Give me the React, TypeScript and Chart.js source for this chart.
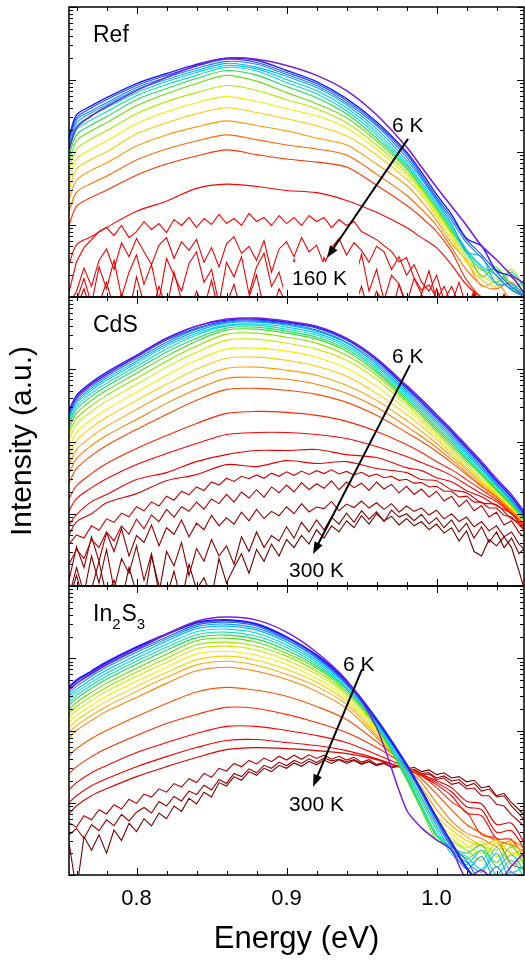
import React, { useEffect, useRef } from "react";
import { Chart, registerables } from "chart.js";

Chart.register(...registerables);

const FONT = '"Liberation Sans", Arial, Helvetica, sans-serif';

// ---- energy grids (eV) ----
const ENERGY = [0.755, 0.76, 0.77, 0.78, 0.8, 0.82, 0.84, 0.86, 0.88, 0.9, 0.92, 0.94, 0.96, 0.98, 0.99, 1.0, 1.01, 1.02, 1.03, 1.04, 1.05, 1.06];
const ENERGY_FINE = [0.755, 0.76, 0.765, 0.77, 0.775, 0.78, 0.785, 0.79, 0.795, 0.8, 0.805, 0.81, 0.815, 0.82, 0.825, 0.83, 0.835, 0.84, 0.845, 0.85, 0.855, 0.86, 0.865, 0.87, 0.875, 0.88, 0.885, 0.89, 0.895, 0.9, 0.905, 0.91, 0.915, 0.92, 0.925, 0.93, 0.935, 0.94, 0.945, 0.95, 0.955, 0.96, 0.965, 0.97, 0.975, 0.98, 0.985, 0.99, 0.995, 1.0, 1.005, 1.01, 1.015, 1.02, 1.025, 1.03, 1.035, 1.04, 1.045, 1.05, 1.055, 1.06];

// ---- axis ticks ----
const X_TICKS = [0.76, 0.78, 0.8, 0.82, 0.84, 0.86, 0.88, 0.9, 0.92, 0.94, 0.96, 0.98, 1.0, 1.02, 1.04];
const X_LABEL_VALUES = [0.8, 0.9, 1.0];
const X_LABEL_TEXT = ["0.8", "0.9", "1.0"];
const Y_MIN = 1;
const Y_MAX = 10000;

// ---- Ref panel (6 K ... 160 K) ----
const REF_01 = [110, 215, 316, 422, 703, 1070, 1560, 1960, 1900, 1560, 1140, 703, 326, 117, 61.9, 32.6, 17.8, 9.69, 5.11, 3.26, 2.02, 1.47];
const REF_02 = [162, 326, 435, 562, 880, 1210, 1620, 1960, 1840, 1330, 938, 544, 261, 100, 52.7, 26.1, 13.8, 6.4, 5.0, 2.3, 1.9, 1.0];
const REF_03 = [152, 297, 408, 527, 825, 1140, 1520, 1900, 1720, 1250, 880, 511, 245, 93.8, 47.9, 23.7, 12.5, 6.19, 3.83, 2.22, 1.38, 1.0];
const REF_04 = [142, 278, 371, 479, 774, 1070, 1420, 1780, 1620, 1170, 825, 479, 230, 85.2, 44.9, 22.2, 11.4, 5.62, 3.48, 1.96, 1.25, 0.97];
const REF_05 = [129, 253, 348, 449, 726, 1000, 1330, 1670, 1480, 1100, 774, 449, 209, 77.4, 42.2, 20.9, 10.3, 4.2, 3.6, 1.5, 1.5, 0.85];
const REF_06 = [117, 230, 316, 408, 659, 938, 1250, 1560, 1400, 1000, 703, 408, 190, 70.3, 38.3, 19.6, 9.69, 4.49, 2.69, 2.0, 1.3, 1.8];
const REF_07 = [103, 202, 278, 359, 599, 852, 1140, 1470, 1310, 908, 638, 371, 172, 65.9, 35.9, 18.4, 9.08, 4.22, 2.53, 1.6, 2.2, 1.2];
const REF_08 = [88, 172, 237, 306, 527, 750, 1030, 1330, 1150, 799, 562, 337, 156, 61.9, 33.7, 17.2, 8.52, 3.95, 2.37, 2.4, 1.5, 1.1];
const REF_09 = [72.6, 142, 196, 253, 435, 638, 880, 1140, 950, 659, 464, 297, 142, 58, 31.6, 16.2, 7.99, 4.4, 1.9, 2.6, 1.3, 1.0];
const REF_10 = [58, 110, 152, 196, 337, 495, 659, 825, 710, 527, 395, 253, 125, 52.7, 29.7, 15.2, 7.5, 3.48, 2.02, 1.6, 2.4, 1.2];
const REF_11 = [42.2, 79.9, 110, 142, 245, 359, 479, 580, 500, 395, 316, 215, 110, 47.9, 27.8, 14.2, 7.03, 3.0, 2.4, 1.8, 1.3, 1.6];
const REF_12 = [30.6, 58, 79.9, 100, 178, 253, 337, 408, 350, 287, 230, 167, 90.8, 42.2, 25.3, 12.9, 6.19, 3.06, 1.72, 1.4, 2.0, 1.0];
const REF_13 = [22.2, 40.8, 56.2, 70.3, 121, 172, 222, 269, 232, 196, 156, 125, 68.1, 34.8, 20.9, 11.4, 5.44, 3.2, 1.4, 1.6, 0.9, 0.8];
const REF_14 = [15.2, 27.8, 37.1, 46.4, 77.4, 110, 142, 172, 148, 125, 110, 90.8, 49.5, 25.3, 16.2, 9.69, 4.79, 2.37, 1.47, 1.3, 1.6, 0.9];
const REF_15 = [9.69, 17.8, 23.7, 29.7, 47.9, 68.1, 88, 107, 92, 79.9, 72.6, 61.9, 34.8, 18.4, 12.5, 7.99, 4.22, 1.72, 1.0, 0.9, 0.9, 0.9];
const REF_16 = [2.78, 5.27, 6.81, 9.08, 15.2, 21, 31.5, 36, 33.5, 29.5, 27.5, 21.5, 14.7, 9.08, 6.59, 4.79, 2.78, 1.47, 1.0, 0.9, 0.9, 0.9];
const REF_17 = [1.17, 3.06, 4.79, 6.19, 7.99, 9.08, 7.03, 9.69, 6.59, 7.99, 11, 8.52, 10.3, 7.74, 11.7, 9.69, 12.5, 9.08, 12.1, 10, 13.8, 10.3, 12.1, 9.69, 14.2, 11, 12.5, 9.69, 13.3, 10.3, 12.5, 9.69, 13.3, 11, 12.5, 9.08, 11.7, 9.69, 11, 7.99, 7.03, 6.19, 5.11, 4.22, 3.06, 3.48, 1.84, 1.25, 1.47, 0.97, 0.78, 0.7, 0.7, 0.7, 0.7, 0.7, 0.7, 0.7, 0.7, 0.7, 0.7, 0.7];
const REF_18 = [0.8, 1.2, 2.5, 1.4, 3.2, 4.6, 2.4, 5.6, 3.6, 6.4, 4.2, 2.8, 5.2, 6.6, 3.4, 5.8, 4.4, 6.2, 3.0, 4.8, 2.6, 5.4, 6.8, 4.0, 5.0, 3.2, 6.0, 2.2, 4.6, 5.8, 3.6, 6.6, 4.2, 5.2, 2.8, 4.8, 6.4, 3.8, 5.6, 4.4, 3.0, 5.0, 4.2, 2.4, 3.6, 2.0, 2.8, 1.6, 1.2, 2.0, 0.9, 1.4, 0.8, 0.7, 1.1, 0.7, 0.7, 0.7, 0.7, 0.7, 0.7, 0.7];
const REF_19 = [0.7, 0.9, 1.8, 0.8, 2.6, 1.3, 3.2, 1.0, 2.2, 3.8, 1.5, 2.8, 0.9, 3.4, 2.0, 1.2, 2.9, 4.2, 1.6, 2.4, 0.8, 3.0, 1.9, 3.6, 1.1, 2.6, 4.0, 1.4, 2.2, 0.9, 3.3, 1.7, 2.7, 1.0, 3.5, 2.1, 1.3, 2.8, 1.6, 3.9, 1.2, 2.4, 0.9, 2.0, 1.5, 0.8, 1.8, 1.1, 2.3, 0.9, 1.4, 0.8, 1.6, 0.7, 1.2, 0.7, 0.9, 0.7, 0.7, 0.7, 0.7, 0.7];
const REF_20 = [0.6, 0.7, 1.3, 0.6, 0.8, 1.6, 0.7, 1.1, 0.6, 1.9, 0.8, 0.6, 1.4, 0.7, 2.2, 0.9, 0.6, 1.2, 0.7, 1.7, 0.6, 0.8, 1.5, 0.6, 1.0, 2.0, 0.7, 0.6, 1.3, 0.8, 0.6, 1.6, 0.7, 1.1, 0.6, 0.9, 1.8, 0.6, 0.7, 1.4, 0.6, 1.2, 0.8, 0.6, 1.5, 0.7, 0.6, 1.1, 0.6, 1.3, 0.7, 0.6, 0.9, 0.6, 1.2, 0.6, 0.8, 0.6, 1.1, 0.6, 0.7, 0.6];
const REF_COLORS = ["#7b1fd6", "#1f1fff", "#1f4fff", "#1f7fff", "#10aaff", "#00ccee", "#10ddbb", "#22dd55", "#66e010", "#aaee00", "#eeee00", "#ffcc00", "#ff9900", "#ff6600", "#ff3300", "#ff0000", "#ff0000", "#ee0000", "#ee0000", "#e00000"];

// ---- CdS panel (6 K ... 300 K) ----
const CDS_01 = [253, 408, 619, 852, 1520, 2610, 3950, 4950, 5110, 4640, 3950, 2690, 1420, 599, 383, 237, 147, 88, 52.7, 30.6, 18.4, 9.69];
const CDS_02 = [269, 435, 659, 908, 1560, 2690, 3950, 4790, 4950, 4490, 3830, 2610, 1380, 562, 359, 222, 138, 82.5, 49.5, 28.7, 17.2, 9.08];
const CDS_03 = [253, 408, 619, 852, 1470, 2530, 3710, 4640, 4790, 4350, 3710, 2530, 1330, 544, 348, 215, 133, 79.9, 47.9, 27.8, 16.7, 8.8];
const CDS_04 = [237, 383, 580, 799, 1380, 2370, 3590, 4490, 4640, 4220, 3480, 2370, 1250, 511, 326, 202, 125, 75, 44.9, 26.1, 15.6, 8.25];
const CDS_05 = [222, 359, 544, 750, 1290, 2220, 3370, 4350, 4490, 4080, 3370, 2300, 1170, 479, 306, 190, 117, 70.3, 42.2, 25.3, 15.2, 7.99];
const CDS_06 = [209, 337, 511, 703, 1210, 2090, 3160, 4080, 4220, 3830, 3160, 2150, 1100, 449, 287, 178, 110, 65.9, 40.8, 24.5, 14.7, 8.52];
const CDS_07 = [190, 306, 464, 638, 1100, 1900, 2970, 3950, 4080, 3590, 2970, 2020, 1030, 422, 269, 167, 103, 61.9, 38.3, 23.7, 14.2, 7.74];
const CDS_08 = [172, 278, 422, 580, 1000, 1720, 2690, 3710, 3830, 3370, 2780, 1900, 969, 395, 253, 156, 96.9, 58, 35.9, 22.2, 13.8, 8.25];
const CDS_09 = [152, 245, 371, 511, 880, 1520, 2450, 3480, 3590, 3160, 2610, 1780, 908, 371, 237, 147, 90.8, 56.2, 34.8, 21.5, 13.3, 7.5];
const CDS_10 = [129, 209, 316, 435, 750, 1290, 2090, 3060, 3160, 2780, 2300, 1560, 825, 348, 222, 138, 85.2, 52.7, 33.7, 20.9, 12.9, 8.52];
const CDS_11 = [107, 172, 261, 359, 619, 1070, 1720, 2530, 2610, 2300, 1900, 1330, 726, 316, 202, 129, 79.9, 49.5, 30.6, 20.2, 12.5, 7.26];
const CDS_12 = [82.5, 133, 202, 278, 479, 825, 1330, 1900, 1960, 1780, 1470, 1030, 580, 278, 184, 117, 75, 46.4, 28.7, 19, 12.1, 7.99];
const CDS_13 = [63.8, 103, 156, 215, 371, 619, 1000, 1420, 1470, 1330, 1100, 799, 464, 237, 162, 107, 68.1, 43.5, 27.8, 18.4, 11.7, 7.03];
const CDS_14 = [47.9, 77.4, 117, 162, 278, 464, 726, 1030, 1070, 969, 825, 599, 371, 196, 138, 93.8, 61.9, 40.8, 26.1, 17.8, 11.4, 7.74];
const CDS_15 = [35.9, 58, 88, 121, 202, 337, 527, 750, 774, 726, 619, 464, 297, 162, 117, 82.5, 56.2, 37.1, 24.5, 17.2, 11, 6.59];
const CDS_16 = [26.9, 42.2, 63.8, 88, 147, 237, 371, 527, 544, 511, 449, 348, 230, 133, 100, 72.6, 51.1, 34.8, 23.7, 16.7, 10.7, 7.26];
const CDS_17 = [16.2, 24.5, 35.9, 49.5, 79.9, 121, 178, 245, 261, 253, 230, 190, 138, 90.8, 70.3, 52.7, 40.8, 29.7, 21.5, 15.6, 10.3, 6.19];
const CDS_18 = [11, 16.2, 23, 30.6, 47.9, 68.1, 93.8, 125, 133, 133, 125, 110, 85.2, 61.9, 51.1, 42.2, 33.7, 25.3, 19, 14.7, 10, 7.03];
const CDS_19 = [7.03, 9.69, 14.7, 18.4, 29.7, 37.1, 52.7, 65.9, 75, 75, 77.4, 65.9, 59.9, 43.5, 39.5, 31.6, 27.8, 20.9, 17.2, 12.9, 10, 5.44];
const CDS_20 = [5.11, 7.74, 10, 14.2, 19, 28.7, 34.8, 47.9, 44.9, 54.4, 49.5, 52.7, 42.2, 37.1, 29.7, 28.7, 21.5, 19.6, 14.2, 13.3, 8.52, 7.03];
const CDS_21 = [3.8, 5.1, 4.6, 6.8, 5.9, 8.5, 7.6, 10.2, 9.1, 12.5, 11.0, 14.6, 12.8, 17.5, 15.4, 20.5, 18.3, 23.5, 21.0, 27.5, 25.0, 31.0, 28.0, 33.0, 30.5, 34.5, 31.0, 36.5, 33.0, 38.0, 34.0, 39.0, 35.0, 39.5, 36.0, 40.5, 35.5, 38.5, 34.5, 37.5, 33.0, 35.5, 31.5, 33.0, 29.0, 30.0, 26.5, 27.0, 23.5, 24.0, 20.5, 20.5, 17.0, 17.5, 14.5, 14.5, 12.0, 12.0, 9.5, 9.0, 7.0, 5.5];
const CDS_22 = [2.0, 3.2, 2.4, 4.4, 3.4, 5.6, 4.2, 6.8, 5.2, 8.4, 6.2, 9.6, 7.8, 11.5, 9.0, 12.5, 10.8, 14.5, 11.6, 16.0, 13.8, 18.5, 14.5, 20.0, 16.5, 21.5, 17.0, 23.5, 19.5, 25.0, 20.0, 27.0, 21.5, 26.0, 22.5, 28.5, 21.5, 27.5, 23.0, 26.5, 21.0, 27.5, 22.0, 25.5, 19.5, 24.0, 18.5, 22.0, 17.0, 20.5, 15.0, 17.5, 12.5, 15.5, 11.0, 13.0, 9.0, 10.5, 7.0, 8.0, 5.5, 4.5];
const CDS_23 = [1.2, 3.5, 1.8, 4.8, 2.2, 5.5, 3.0, 6.2, 2.6, 5.0, 4.0, 7.0, 3.6, 6.4, 5.2, 8.2, 4.8, 7.4, 6.0, 9.5, 6.8, 8.8, 7.2, 10.5, 8.0, 11.5, 8.6, 10.8, 9.4, 12.5, 10.0, 13.8, 10.6, 12.4, 11.8, 14.8, 11.0, 13.6, 12.2, 15.0, 12.0, 14.2, 11.5, 13.8, 10.5, 12.8, 10.8, 12.0, 9.6, 11.2, 8.5, 10.0, 7.8, 9.0, 6.6, 7.8, 5.8, 6.8, 4.8, 5.6, 3.8, 3.0];
const CDS_24 = [0.7, 1.8, 0.8, 2.6, 1.1, 3.2, 0.9, 2.4, 1.5, 3.6, 1.2, 2.8, 0.8, 3.0, 1.9, 4.0, 1.4, 3.3, 2.2, 4.4, 2.6, 3.6, 2.0, 4.8, 3.0, 5.6, 3.4, 5.0, 4.2, 6.6, 4.6, 7.6, 5.6, 8.2, 6.0, 9.0, 7.2, 10.2, 7.6, 11.0, 8.4, 10.6, 7.8, 11.2, 9.0, 10.0, 8.0, 9.8, 7.2, 8.8, 6.4, 8.2, 5.6, 7.4, 4.6, 6.6, 4.0, 5.6, 3.4, 4.6, 2.8, 3.6];
const CDS_25 = [0.6, 1.4, 0.6, 0.9, 2.2, 0.7, 1.2, 0.6, 1.8, 0.8, 0.6, 2.6, 1.0, 0.7, 1.6, 0.6, 2.0, 0.9, 1.3, 0.7, 2.4, 1.1, 1.8, 2.8, 1.5, 3.2, 2.2, 3.8, 2.6, 4.4, 3.4, 5.0, 3.8, 6.0, 4.6, 6.8, 5.6, 8.0, 6.4, 9.4, 7.2, 10.0, 8.0, 9.2, 7.0, 8.6, 6.8, 7.8, 6.0, 7.2, 5.4, 6.4, 4.2, 5.8, 3.0, 2.6, 4.4, 3.6, 4.8, 3.4, 1.6, 0.7];
const CDS_COLORS = ["#7b1fd6", "#2020ff", "#2050ff", "#1a80ff", "#10aaff", "#00ccee", "#10ddbb", "#20dd70", "#44dd22", "#88e800", "#c4f000", "#f4f000", "#ffcc00", "#ffa000", "#ff7a00", "#ff4a00", "#ff2200", "#ff0000", "#f00000", "#e00000", "#cc0000", "#b00000", "#990000", "#880000", "#700000"];

// ---- In2S3 panel (6 K ... 300 K) ----
const INS_01 = [359, 449, 619, 825, 1330, 2150, 3260, 3710, 3370, 2300, 1210, 495, 110, 7.99, 4.49, 3.06, 2.22, 0.9, 1.17, 0.77, 1.33, 2.22];
const INS_02 = [395, 495, 659, 880, 1420, 2150, 3100, 3370, 2970, 1960, 1100, 479, 142, 33.7, 14.7, 6.19, 2.78, 1.25, 0.77, 0.9, 0.66, 0.77];
const INS_03 = [359, 449, 599, 799, 1290, 1960, 2900, 3160, 2790, 1840, 1030, 449, 138, 32.6, 14.2, 5.8, 2.53, 1.6, 0.8, 1.3, 0.7, 0.9];
const INS_04 = [326, 408, 562, 750, 1210, 1840, 2740, 2970, 2610, 1780, 1000, 435, 133, 30.6, 13.3, 5.27, 2.37, 1.2, 1.8, 0.8, 1.1, 0.7];
const INS_05 = [297, 371, 511, 681, 1100, 1720, 2570, 2780, 2450, 1670, 938, 422, 129, 27.8, 11.7, 4.79, 2.15, 1.5, 1.1, 2.0, 0.8, 1.0];
const INS_06 = [269, 337, 464, 619, 1000, 1560, 2330, 2530, 2230, 1520, 880, 395, 125, 25.3, 10.3, 4.22, 1.96, 1.4, 2.2, 1.0, 1.6, 0.8];
const INS_07 = [245, 306, 422, 562, 908, 1420, 2120, 2300, 2020, 1420, 825, 383, 121, 23.7, 9.08, 3.71, 2.2, 1.8, 1.2, 2.4, 1.1, 1.4];
const INS_08 = [222, 278, 383, 511, 825, 1290, 1930, 2090, 1840, 1290, 774, 371, 117, 22.2, 8.52, 3.48, 2.4, 2.0, 2.6, 1.3, 1.9, 1.0];
const INS_09 = [196, 245, 337, 449, 726, 1140, 1750, 1900, 1670, 1170, 726, 348, 114, 20.9, 7.99, 3.06, 2.6, 1.7, 2.2, 1.5, 2.5, 1.2];
const INS_10 = [172, 215, 297, 395, 638, 1000, 1540, 1670, 1470, 1070, 659, 326, 110, 22.2, 9.08, 3.48, 2.9, 2.2, 1.6, 2.8, 1.4, 1.8];
const INS_11 = [152, 190, 261, 348, 562, 880, 1350, 1470, 1300, 938, 599, 306, 103, 23.7, 11, 4.49, 3.2, 2.4, 2.9, 1.8, 2.4, 1.5];
const INS_12 = [129, 162, 222, 297, 479, 750, 1150, 1250, 1100, 825, 527, 278, 96.9, 25.3, 12.5, 5.44, 3.6, 2.6, 2.0, 3.0, 1.9, 2.2];
const INS_13 = [110, 138, 190, 253, 408, 638, 950, 1070, 940, 703, 464, 253, 90.8, 26.9, 14.2, 6.59, 4.2, 3.0, 2.5, 2.2, 2.8, 1.7];
const INS_14 = [93.8, 117, 162, 215, 348, 544, 810, 908, 800, 599, 408, 230, 85.2, 28.7, 16.2, 7.99, 4.8, 3.4, 2.6, 3.0, 2.0, 2.4];
const INS_15 = [79.9, 100, 138, 184, 287, 449, 670, 750, 660, 511, 348, 202, 79.9, 30.6, 19, 10, 5.6, 3.8, 3.2, 2.5, 3.0, 2.2];
const INS_16 = [44.9, 56.2, 77.4, 100, 156, 237, 342, 395, 360, 297, 215, 142, 70.3, 32.6, 21.5, 13.3, 7.99, 5.0, 3.8, 3.0, 2.6, 2.0];
const INS_17 = [25.3, 31.6, 43.5, 56.2, 85.2, 125, 167, 209, 202, 167, 129, 93.8, 58, 32.6, 23.7, 16.2, 10.3, 7.5, 3.6, 3.2, 1.4, 1.2];
const INS_18 = [15.2, 19, 26.1, 32.6, 49.5, 68.1, 90.8, 114, 114, 100, 85.2, 68.1, 46.4, 30.6, 23.7, 17.8, 12.5, 7.2, 6.6, 3.2, 3.1, 1.5];
const INS_19 = [10, 12.5, 17.2, 21.5, 31.6, 43.5, 58, 72.6, 75, 68.1, 61.9, 52.7, 40.8, 28.7, 23.7, 19, 14.2, 8.8, 8.0, 3.9, 4.1, 2.0];
const INS_20 = [7.03, 9.08, 12.5, 15.6, 23, 31.6, 42.2, 54.4, 58, 56.2, 52.7, 47.9, 39.5, 28.7, 24.5, 20.2, 16.2, 10.5, 9.6, 5.0, 5.2, 2.4];
const INS_21 = [5.3, 4.6, 6.6, 5.8, 8.0, 7.0, 9.4, 8.2, 11.2, 9.8, 13.2, 12.0, 15.6, 14.0, 18.4, 16.5, 21.5, 19.0, 25.5, 22.5, 30.0, 27.5, 35.0, 31.5, 38.5, 34.5, 41.5, 37.0, 44.0, 39.0, 45.5, 40.0, 46.0, 41.0, 45.5, 40.0, 44.0, 39.0, 42.5, 36.5, 39.5, 34.0, 36.0, 30.5, 32.0, 27.5, 28.5, 24.0, 25.0, 21.0, 22.0, 18.0, 19.0, 15.5, 16.0, 12.5, 12.5, 9.5, 9.0, 6.8, 5.5, 4.4];
const INS_22 = [3.6, 4.4, 3.2, 5.0, 4.1, 5.8, 4.8, 6.9, 5.6, 7.4, 8.6, 7.2, 10.4, 9.0, 12.2, 10.6, 14.5, 13.0, 17.5, 15.0, 21.0, 18.5, 25.5, 23.0, 29.5, 26.0, 33.0, 30.0, 36.5, 32.5, 38.5, 35.0, 40.5, 36.0, 41.5, 38.0, 40.0, 37.0, 39.5, 35.0, 37.5, 33.0, 35.0, 31.0, 32.0, 27.5, 29.0, 25.5, 26.0, 22.0, 23.5, 20.0, 21.0, 17.0, 18.5, 14.5, 15.5, 12.0, 12.5, 9.0, 7.0, 5.3];
const INS_23 = [2.8, 0.6, 3.4, 2.2, 3.6, 2.0, 4.2, 3.0, 5.2, 4.0, 6.0, 4.8, 7.2, 6.0, 9.0, 7.6, 11.5, 9.6, 14.0, 12.0, 19.0, 17.0, 23.0, 20.5, 27.0, 24.0, 30.0, 27.0, 33.0, 30.0, 35.5, 32.0, 37.5, 33.5, 39.0, 35.0, 39.5, 35.0, 38.5, 34.0, 37.0, 32.5, 35.5, 31.0, 33.5, 29.0, 31.0, 27.0, 28.5, 24.5, 26.0, 22.0, 23.0, 19.5, 20.5, 16.0, 17.0, 12.5, 13.5, 10.0, 8.0, 6.2];
const INS_COLORS = ["#7b1fd6", "#2020ff", "#2060ff", "#1890ff", "#00b8ff", "#00d8e8", "#10e0b0", "#20dd50", "#55e010", "#99e800", "#ccf000", "#f4f000", "#ffd000", "#ffaa00", "#ff8000", "#ff5000", "#ff2a00", "#ff0000", "#f00000", "#dd0000", "#b00000", "#990000", "#7a0000"];

type Seg = { t: string; sub?: boolean };
type Note = { text: string; e: number; v: number; box?: boolean };
type Arrow = { e0: number; v0: number; e1: number; v1: number };
type Panel = {
  key: string;
  top: number;
  height: number;
  padTop: number;
  padBottom: number;
  label: Seg[];
  series: number[][];
  colors: string[];
  widths: Record<number, number>;
  notes: Note[];
  arrow: Arrow;
  xAxis?: boolean;
  yTitleY?: number;
};

const PANELS: Panel[] = [
  {
    key: "ref", top: 0, height: 300, padTop: 7, padBottom: 3,
    label: [{ t: "Ref" }],
    series: [REF_01, REF_02, REF_03, REF_04, REF_05, REF_06, REF_07, REF_08, REF_09, REF_10, REF_11, REF_12, REF_13, REF_14, REF_15, REF_16, REF_17, REF_18, REF_19, REF_20],
    colors: REF_COLORS,
    widths: { 0: 1.6, 1: 1.4 },
    notes: [
      { text: "6 K", e: 0.9703, v: 190 },
      { text: "160 K", e: 0.9037, v: 1.47, box: true },
    ],
    arrow: { e0: 0.981, v0: 152, e1: 0.927, v1: 3.48 },
  },
  {
    key: "cds", top: 290, height: 300, padTop: 7, padBottom: 4,
    label: [{ t: "CdS" }],
    series: [CDS_01, CDS_02, CDS_03, CDS_04, CDS_05, CDS_06, CDS_07, CDS_08, CDS_09, CDS_10, CDS_11, CDS_12, CDS_13, CDS_14, CDS_15, CDS_16, CDS_17, CDS_18, CDS_19, CDS_20, CDS_21, CDS_22, CDS_23, CDS_24, CDS_25],
    colors: CDS_COLORS,
    widths: { 0: 1.5, 1: 1.4 },
    notes: [
      { text: "6 K", e: 0.9703, v: 1210 },
      { text: "300 K", e: 0.9017, v: 1.33 },
    ],
    arrow: { e0: 0.9823, v0: 1140, e1: 0.9177, v1: 2.78 },
    yTitleY: 151,
  },
  {
    key: "ins", top: 579, height: 382, padTop: 7, padBottom: 86,
    label: [{ t: "In" }, { t: "2", sub: true }, { t: "S" }, { t: "3", sub: true }],
    series: [INS_01, INS_02, INS_03, INS_04, INS_05, INS_06, INS_07, INS_08, INS_09, INS_10, INS_11, INS_12, INS_13, INS_14, INS_15, INS_16, INS_17, INS_18, INS_19, INS_20, INS_21, INS_22, INS_23],
    colors: INS_COLORS,
    widths: { 0: 1.5, 1: 2.2 },
    notes: [
      { text: "6 K", e: 0.9377, v: 659 },
      { text: "300 K", e: 0.9017, v: 7.74 },
    ],
    arrow: { e0: 0.9503, v0: 703, e1: 0.9177, v1: 16.7 },
    xAxis: true,
  },
];

function drawArrow(ctx: CanvasRenderingContext2D, x0: number, y0: number, x1: number, y1: number) {
  const ang = Math.atan2(y1 - y0, x1 - x0);
  const L = 12;
  const W = 4.5;
  ctx.lineWidth = 2;
  ctx.strokeStyle = "#000";
  ctx.fillStyle = "#000";
  ctx.beginPath();
  ctx.moveTo(x0, y0);
  ctx.lineTo(x1 - (L - 2) * Math.cos(ang), y1 - (L - 2) * Math.sin(ang));
  ctx.stroke();
  ctx.beginPath();
  ctx.moveTo(x1, y1);
  ctx.lineTo(x1 - L * Math.cos(ang) + W * Math.sin(ang), y1 - L * Math.sin(ang) - W * Math.cos(ang));
  ctx.lineTo(x1 - L * Math.cos(ang) - W * Math.sin(ang), y1 - L * Math.sin(ang) + W * Math.cos(ang));
  ctx.closePath();
  ctx.fill();
}

function makePlugin(p: Panel) {
  return {
    id: "frame_" + p.key,
    afterDatasetsDraw(chart: any) {
      const ctx: CanvasRenderingContext2D = chart.ctx;
      const a = chart.chartArea;
      const xs = chart.scales.x;
      const ys = chart.scales.y;
      ctx.save();
      ctx.fillStyle = "#000";
      ctx.textBaseline = "alphabetic";
      ctx.textAlign = "left";

      // notes (with optional white background)
      ctx.font = "21px " + FONT;
      for (const n of p.notes) {
        const x = xs.getPixelForValue(n.e);
        const y = ys.getPixelForValue(n.v);
        const w = ctx.measureText(n.text).width;
        if (n.box) {
          ctx.fillStyle = "#fff";
          ctx.fillRect(x - 9, y - 23, w + 21, a.bottom - (y - 23) - 1);
          ctx.fillStyle = "#000";
        }
        ctx.fillText(n.text, x, y);
      }

      // arrow
      drawArrow(ctx, xs.getPixelForValue(p.arrow.e0), ys.getPixelForValue(p.arrow.v0), xs.getPixelForValue(p.arrow.e1), ys.getPixelForValue(p.arrow.v1));

      // panel label
      ctx.fillStyle = "#000";
      let lx = a.left + 24;
      const ly = a.top + 35;
      for (const s of p.label) {
        ctx.font = (s.sub ? "15px " : "23px ") + FONT;
        ctx.fillText(s.t, lx, ly + (s.sub ? 8 : 0));
        lx += ctx.measureText(s.t).width + (s.sub ? 1 : 0);
      }

      // frame
      ctx.strokeStyle = "#000";
      ctx.lineWidth = 1.5;
      ctx.strokeRect(a.left, a.top, a.right - a.left, a.bottom - a.top);

      // x ticks (inward, top and bottom)
      ctx.lineWidth = 1;
      ctx.beginPath();
      for (const t of X_TICKS) {
        const px = Math.round(xs.getPixelForValue(t)) + 0.5;
        const len = X_LABEL_VALUES.includes(t) ? 7 : 4;
        ctx.moveTo(px, a.bottom);
        ctx.lineTo(px, a.bottom - len);
        ctx.moveTo(px, a.top);
        ctx.lineTo(px, a.top + len);
      }
      // y ticks (log decades and minors, inward, left and right)
      for (let d = 0; d <= 4; d++) {
        for (let k = 1; k <= 9; k++) {
          const v = k * Math.pow(10, d);
          if (v > Y_MAX * 1.0001) continue;
          const py = Math.round(ys.getPixelForValue(v)) + 0.5;
          const len = k === 1 ? 7 : 4;
          ctx.moveTo(a.left, py);
          ctx.lineTo(a.left + len, py);
          ctx.moveTo(a.right, py);
          ctx.lineTo(a.right - len, py);
        }
      }
      ctx.stroke();

      if (p.xAxis) {
        ctx.textAlign = "center";
        ctx.font = "22px " + FONT;
        X_LABEL_VALUES.forEach((v, i) => {
          ctx.fillText(X_LABEL_TEXT[i], xs.getPixelForValue(v), a.bottom + 30);
        });
        ctx.font = "31px " + FONT;
        ctx.fillText("Energy (eV)", (a.left + a.right) / 2, a.bottom + 73);
      }
      if (p.yTitleY !== undefined) {
        ctx.save();
        ctx.translate(23, p.yTitleY);
        ctx.rotate(-Math.PI / 2);
        ctx.textAlign = "center";
        ctx.textBaseline = "middle";
        ctx.font = "30px " + FONT;
        ctx.fillText("Intensity (a.u.)", 0, 0);
        ctx.restore();
      }
      ctx.restore();
    },
  };
}

function buildConfig(p: Panel): any {
  const datasets = p.series.map((s, i) => {
    const fine = s.length === ENERGY_FINE.length;
    const xs = fine ? ENERGY_FINE : ENERGY;
    return {
      data: s.map((v, j) => ({ x: xs[j], y: v })),
      borderColor: p.colors[i],
      borderWidth: p.widths[i] ?? 1.1,
      pointRadius: 0,
      tension: fine ? 0 : 0.3,
      fill: false,
    };
  });
  return {
    type: "line",
    data: { datasets },
    options: {
      animation: false,
      responsive: false,
      maintainAspectRatio: false,
      devicePixelRatio: 1,
      events: [],
      layout: { padding: { left: 69, right: 1, top: p.padTop, bottom: p.padBottom } },
      plugins: { legend: { display: false }, tooltip: { enabled: false }, title: { display: false } },
      scales: {
        x: { type: "linear", min: 0.755, max: 1.0583, display: false },
        y: { type: "logarithmic", min: Y_MIN, max: Y_MAX, display: false },
      },
    },
    plugins: [makePlugin(p)],
  };
}

export default function App() {
  const r0 = useRef<HTMLCanvasElement>(null);
  const r1 = useRef<HTMLCanvasElement>(null);
  const r2 = useRef<HTMLCanvasElement>(null);
  const refs = [r0, r1, r2];

  useEffect(() => {
    const charts = PANELS.map((p, i) => new Chart(refs[i].current as HTMLCanvasElement, buildConfig(p)));
    return () => charts.forEach((c) => c.destroy());
  }, []);

  return (
    <div style={{ position: "absolute", left: 0, top: 0, width: 525, height: 961, background: "#fff", overflow: "hidden" }}>
      {PANELS.map((p, i) => (
        <canvas
          key={p.key}
          ref={refs[i]}
          width={525}
          height={p.height}
          style={{ position: "absolute", left: 0, top: p.top, width: 525, height: p.height }}
        />
      ))}
    </div>
  );
}
